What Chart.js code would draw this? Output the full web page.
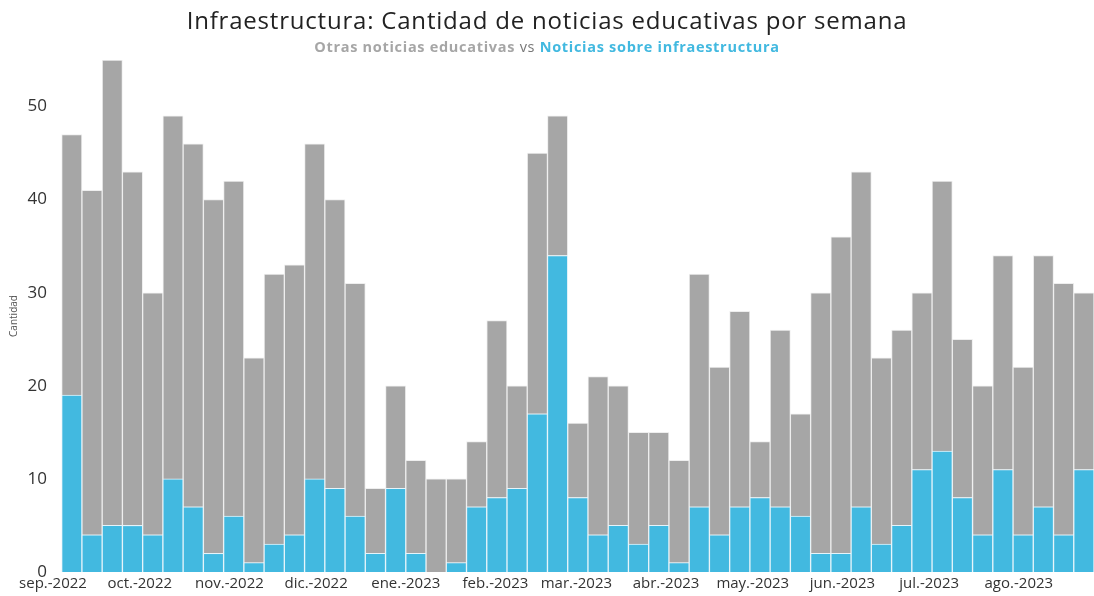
<!DOCTYPE html>
<html>
<head>
<meta charset="utf-8">
<script src="https://cdn.jsdelivr.net/npm/chart.js@4.4.0/dist/chart.umd.min.js"></script>
<style>
  body { margin: 0; background: #fff; font-family: "Open Sans", sans-serif; }
  #wrap { position: relative; width: 1094px; height: 596px; }
  #title { position: absolute; top: 3px; left: 0; width: 1094px; text-align: center; font-size: 24px; letter-spacing: 0.8px; color: #222; }
  #sub { position: absolute; top: 37px; left: 0; width: 1094px; text-align: center; font-size: 14.5px; letter-spacing: 0.7px; }
  #sub .o { color: #a6a6a6; font-weight: 700; }
  #sub .vs { color: #777; }
  #sub .i { color: #42b9e0; font-weight: 700; }
</style>
</head>
<body>
<div id="wrap">
  <div id="title">Infraestructura: Cantidad de noticias educativas por semana</div>
  <div id="sub"><span class="o">Otras noticias educativas</span> <span class="vs">vs</span> <span class="i">Noticias sobre infraestructura</span></div>
  <canvas id="chart" width="1094" height="596"></canvas>
</div>
<script>
// semanas: dias desde 1 sep 2022 (centro de cada semana dom-sab, primera empieza el 4 sep)
const weekStart = 3
const totals = [47, 41, 55, 43, 30, 49, 46, 40, 42, 23, 32, 33, 46, 40, 31, 9, 20, 12, 10, 10,
  14, 27, 20, 45, 49, 16, 21, 20, 15, 15, 12, 32, 22, 28, 14, 26, 17, 30, 36, 43,
  23, 26, 30, 42, 25, 20, 34, 22, 34, 31, 30]
const infra = [19, 4, 5, 5, 4, 10, 7, 2, 6, 1, 3, 4, 10, 9, 6, 2, 9, 2, 0, 1,
  7, 8, 9, 17, 34, 8, 4, 5, 3, 5, 1, 7, 4, 7, 8, 7, 6, 2, 2, 7,
  3, 5, 11, 13, 8, 4, 11, 4, 7, 4, 11]
const otras = totals.map((t, i) => t - infra[i])
const weekX = totals.map((t, i) => weekStart + 7 * i + 3.5)

const monthLabels = ['sep.-2022', 'oct.-2022', 'nov.-2022', 'dic.-2022', 'ene.-2023', 'feb.-2023',
  'mar.-2023', 'abr.-2023', 'may.-2023', 'jun.-2023', 'jul.-2023', 'ago.-2023']
const monthDays = [0, 30, 61, 91, 122, 153, 181, 212, 242, 273, 303, 334]
const yTicks = [0, 10, 20, 30, 40, 50]

const ctx = document.getElementById('chart').getContext('2d')

new Chart(ctx, {
  type: 'bar',
  data: {
    datasets: [
      {
        label: 'Noticias sobre infraestructura',
        data: weekX.map((x, i) => ({ x: x, y: infra[i] })),
        backgroundColor: '#42b9e0',
        borderColor: '#e6f4fa',
        borderWidth: 1,
        barPercentage: 1,
        categoryPercentage: 1
      },
      {
        label: 'Otras noticias educativas',
        data: weekX.map((x, i) => ({ x: x, y: otras[i] })),
        backgroundColor: '#a6a6a6',
        borderColor: '#eeeeee',
        borderWidth: 1,
        barPercentage: 1,
        categoryPercentage: 1
      }
    ]
  },
  options: {
    responsive: false,
    animation: false,
    layout: { padding: { top: 60, right: 0, left: 0, bottom: 0 } },
    plugins: {
      legend: { display: false },
      tooltip: { enabled: false }
    },
    scales: {
      x: {
        type: 'linear',
        stacked: true,
        offset: false,
        min: 0,
        max: 360,
        grid: { display: false, drawTicks: false },
        border: { display: false },
        afterBuildTicks: s => { s.ticks = monthDays.map(v => ({ value: v })) },
        ticks: {
          autoSkip: false,
          maxRotation: 0,
          padding: 3,
          color: '#333',
          font: { family: 'Open Sans', size: 15 },
          callback: (v) => monthLabels[monthDays.indexOf(v)]
        },
        afterFit: s => { s.height = 24 }
      },
      y: {
        stacked: true,
        min: 0,
        max: 55,
        grid: { display: false, drawTicks: false },
        border: { display: false },
        afterBuildTicks: s => { s.ticks = yTicks.map(v => ({ value: v })) },
        ticks: {
          padding: 6,
          color: '#333',
          font: { family: 'Open Sans', size: 17 }
        },
        title: {
          display: true,
          text: 'Cantidad',
          color: '#555',
          font: { family: 'Open Sans', size: 10 },
          padding: { top: 8, bottom: 0 }
        },
        afterFit: s => { s.width = 53 }
      }
    }
  }
})
</script>
</body>
</html>
